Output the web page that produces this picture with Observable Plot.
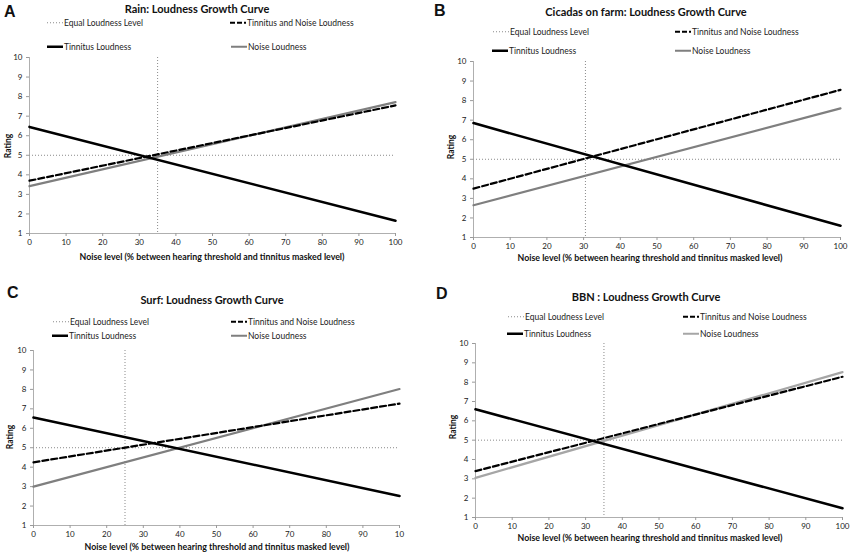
<!DOCTYPE html>
<html><head><meta charset="utf-8">
<script src="https://cdn.jsdelivr.net/npm/d3@7"></script>
<script src="https://cdn.jsdelivr.net/npm/@observablehq/plot@0.6"></script>
<style>
body{margin:0;background:#fff;font-family:Lato,"Open Sans",sans-serif;}
#root{position:relative;width:851px;height:555px;overflow:hidden;background:#fff}
.a{position:absolute;white-space:nowrap;color:#111;line-height:1}
.c{transform:translate(-50%,-50%)}
.l{transform:translateY(-50%);display:flex;align-items:center;font-size:8.5px;color:#222}
</style></head><body><div id="root"></div>
<script>
// ---- data ----
const xTicks = [0,10,20,30,40,50,60,70,80,90,100];
const yTicks = [1,2,3,4,5,6,7,8,9,10];
const xTickLabelsStd = ["0","10","20","30","40","50","60","70","80","90","100"];
const xTickLabelsC = ["0","10","20","30","40","50","60","70","80","90","10"];
const panelLetters = ["A","B","C","D"];
const panelTitles = ["Rain: Loudness Growth Curve","Cicadas on farm: Loudness Growth Curve","Surf: Loudness Growth Curve","BBN : Loudness Growth Curve"];
const seriesNames = ["Equal Loudness Level","Tinnitus and Noise Loudness","Tinnitus Loudness","Noise Loudness"];
const xLabel = "Noise level (% between hearing threshold and tinnitus masked level)";
const yLabel = "Rating";
const xEnds = [0,100];
const equalY = 5;
// per panel: A, B, C, D
const tinnitusA = [6.45,1.65], noiseA = [3.42,7.72], combinedA = [3.70,7.55], equalXA = 35;
const tinnitusB = [6.85,1.60], noiseB = [2.65,7.60], combinedB = [3.50,8.55], equalXB = 30.5;
const tinnitusC = [6.55,2.52], noiseC = [3.00,8.02], combinedC = [4.25,7.27], equalXC = 25;
const tinnitusD = [6.60,1.48], noiseD = [3.05,8.52], combinedD = [3.40,8.28], equalXD = 35;

const panels = [
  {tin:tinnitusA, noi:noiseA, comb:combinedA, eqX:equalXA, xl:xTickLabelsStd, noiseColor:"#7f7f7f",
   left:0, x0:29, x100:395, y10:57, y1:233, letter:[4,12], title:[197,8],
   leg:[[47,23],[230,23],[47,47],[231,47]], rating:[8,146], xlab:[212,257]},
  {tin:tinnitusB, noi:noiseB, comb:combinedB, eqX:equalXB, xl:xTickLabelsStd, noiseColor:"#7f7f7f",
   left:425, x0:473, x100:840, y10:61, y1:237, letter:[434,11], title:[646,11],
   leg:[[493,32],[675,32],[492,51],[675,51]], rating:[451,147], xlab:[650,258]},
  {tin:tinnitusC, noi:noiseC, comb:combinedC, eqX:equalXC, xl:xTickLabelsC, noiseColor:"#7f7f7f",
   left:0, x0:33, x100:399, y10:350, y1:525, letter:[7,293], title:[212,299],
   leg:[[53,322],[231,322],[52,336],[231,336]], rating:[10,437], xlab:[217,547]},
  {tin:tinnitusD, noi:noiseD, comb:combinedD, eqX:equalXD, xl:xTickLabelsStd, noiseColor:"#a6a6a6",
   left:425, x0:475, x100:842, y10:343, y1:517, letter:[436,294], title:[646,296],
   leg:[[508,317],[683,317],[507,334],[683,334]], rating:[453,427], xlab:[650,538]}
];

const root = document.getElementById("root");
function addText(txt, x, y, style, cls){
  const d = document.createElement("div");
  d.className = "a " + (cls||"");
  d.textContent = txt;
  d.style.left = x+"px"; d.style.top = y+"px";
  Object.assign(d.style, style||{});
  root.appendChild(d);
  return d;
}
function swatchSvg(stroke, width, dash){
  return `<svg width="16" height="6" style="margin-right:1px"><line x1="0" x2="16" y1="3" y2="3" stroke="${stroke}" stroke-width="${width}" ${dash?`stroke-dasharray="${dash}"`:""}/></svg>`;
}

panels.forEach((p,i) => {
  const lineData = (vals) => xEnds.map((x,k)=>({x, y: vals[k]}));
  const top = p.y10 - 12, bottom = p.y1 + 18;
  const width = 425;
  const height = bottom - top;
  const xt = new Map(xTicks.map((t,k)=>[t,p.xl[k]]));
  const chart = Plot.plot({
    width, height,
    marginLeft: p.x0 - p.left, marginRight: p.left + width - p.x100,
    marginTop: p.y10 - top, marginBottom: bottom - p.y1,
    x:{domain:[0,100]}, y:{domain:[1,10]},
    style:{fontFamily:"Lato, sans-serif", fontSize:"8px", color:"#222", background:"transparent", position:"absolute", left:p.left+"px", top:top+"px", overflow:"visible"},
    marks:[
      Plot.ruleY([equalY], {stroke:"#8a8a8a", strokeWidth:1, strokeDasharray:"1,2"}),
      Plot.ruleX([p.eqX], {stroke:"#8a8a8a", strokeWidth:1, strokeDasharray:"1,2"}),
      Plot.ruleX([0], {stroke:"#9a9a9a", strokeWidth:0.8}),
      Plot.ruleY([1], {stroke:"#9a9a9a", strokeWidth:0.8}),
      Plot.axisY(yTicks, {tickSize:3, tickPadding:4, stroke:"#9a9a9a", label:null}),
      Plot.axisX(xTicks, {tickSize:3, tickPadding:3, stroke:"#9a9a9a", label:null, tickFormat:d=>xt.get(d)}),
      Plot.line(lineData(p.noi), {x:"x", y:"y", stroke:p.noiseColor, strokeWidth:2.2}),
      Plot.line(lineData(p.comb), {x:"x", y:"y", stroke:"#000", strokeWidth:2.2, strokeDasharray:"6,3"}),
      Plot.line(lineData(p.tin), {x:"x", y:"y", stroke:"#000", strokeWidth:2.6})
    ]
  });
  chart.style.position = "absolute";
  chart.style.left = p.left+"px";
  chart.style.top = top+"px";
  root.appendChild(chart);

  addText(panelLetters[i], p.letter[0], p.letter[1], {fontSize:"16px", fontWeight:"bold", fontFamily:"Arial, Liberation Sans, sans-serif", transform:"translateY(-50%)"});
  addText(panelTitles[i], p.title[0], p.title[1], {fontSize:"11px", fontWeight:"bold"}, "c");
  const sw = [
    swatchSvg("#8a8a8a",1.2,"1,2"),
    swatchSvg("#000",2.2,"5,2"),
    swatchSvg("#000",2.6,null),
    swatchSvg(p.noiseColor,2.2,null)
  ];
  seriesNames.forEach((name,k)=>{
    const d = addText("", p.leg[k][0], p.leg[k][1], {}, "l");
    d.innerHTML = sw[k] + `<span>${name}</span>`;
  });
  addText(yLabel, p.rating[0], p.rating[1], {fontSize:"8.5px", fontWeight:"bold", transform:"translate(-50%,-50%) rotate(-90deg)"});
  addText(xLabel, p.xlab[0], p.xlab[1], {fontSize:"8.8px", fontWeight:"bold"}, "c");
});
</script>
</body></html>
